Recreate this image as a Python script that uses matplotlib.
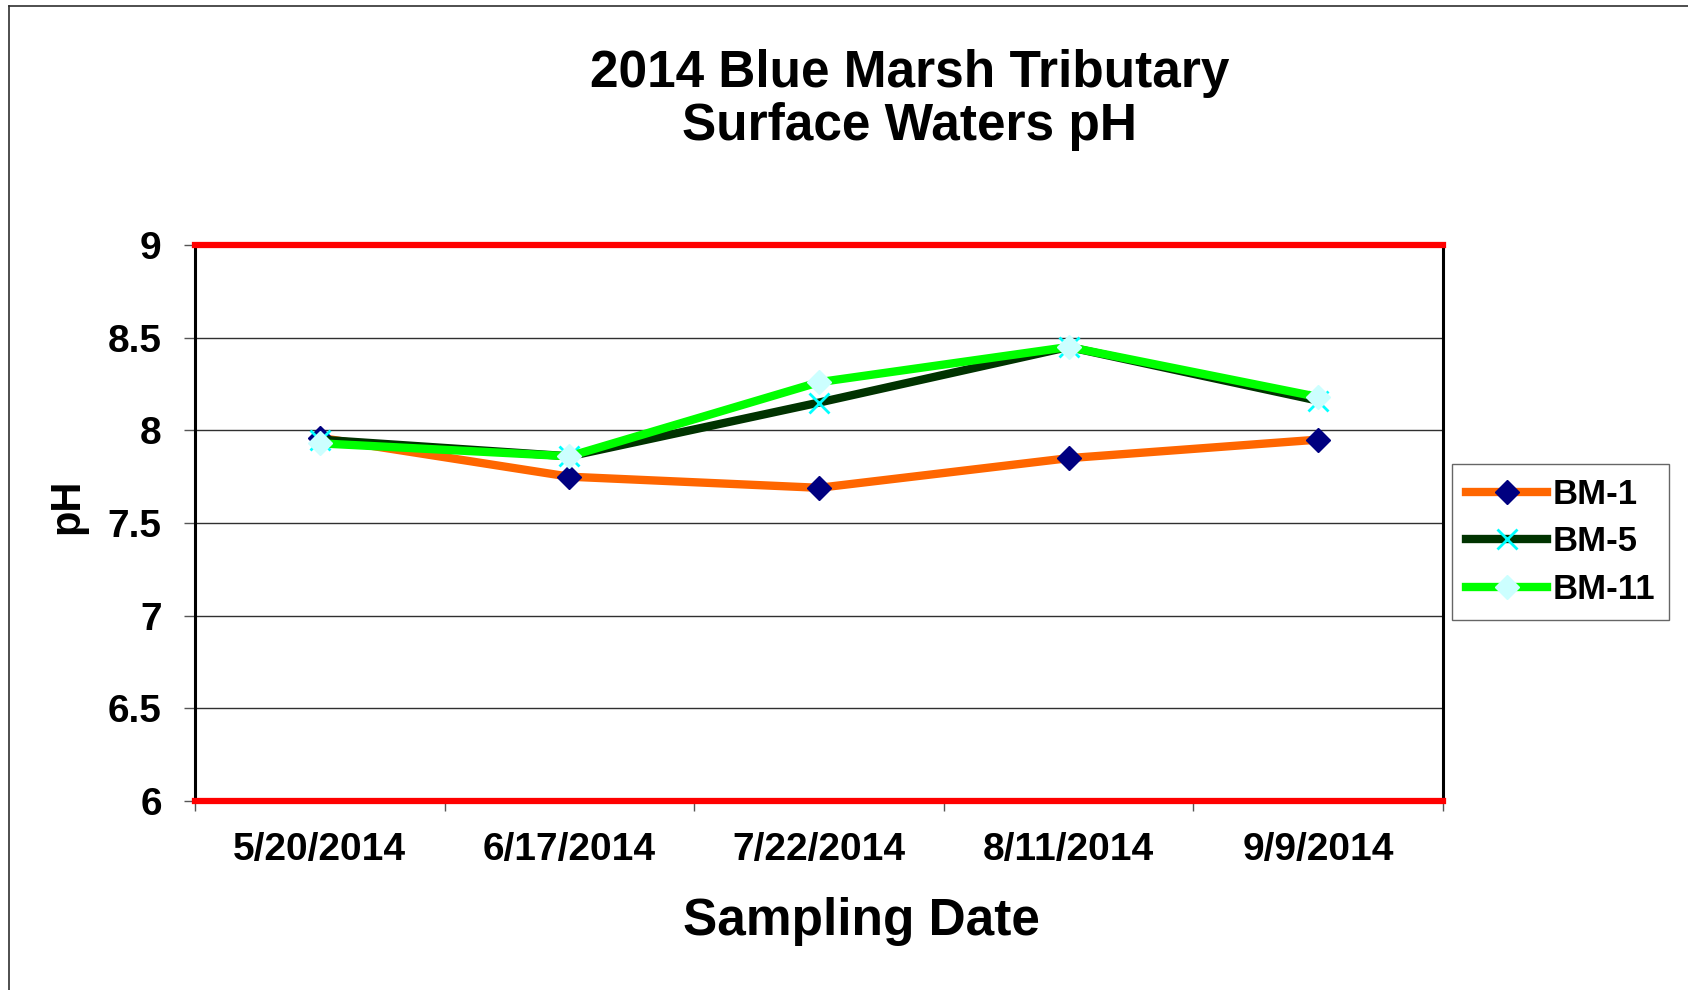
import matplotlib.pyplot as plt
import matplotlib.lines as mlines

plt.rcParams['font.family'] = ['Liberation Sans', 'DejaVu Sans']
plt.rcParams['font.weight'] = 'bold'

dates = ['5/20/2014', '6/17/2014', '7/22/2014', '8/11/2014', '9/9/2014']
bm1 = [7.96, 7.75, 7.69, 7.85, 7.95]
bm5 = [7.95, 7.86, 8.15, 8.45, 8.16]
bm11 = [7.93, 7.86, 8.26, 8.45, 8.18]
yticks = [6, 6.5, 7, 7.5, 8, 8.5, 9]
limit_low, limit_high = 6, 9

fig = plt.figure(figsize=(16.88, 9.9), dpi=100)
ax = fig.add_axes([0.1155, 0.1909, 0.7394, 0.5616])

x = list(range(len(dates)))
ax.plot(x, bm1, color='#FF6600', lw=6, marker='D', ms=12,
        mfc='#000080', mec='#000080', label='BM-1', zorder=3)
ax.plot(x, bm5, color='#003300', lw=6, marker='x', ms=14,
        mew=2, mec='#00FFFF', label='BM-5', zorder=4)
ax.plot(x, bm11, color='#00FF00', lw=6, marker='D', ms=12,
        mfc='#CCFFFF', mec='#CCFFFF', label='BM-11', zorder=5)

ax.axhline(limit_high, color='#FF0000', lw=4.5, clip_on=False, zorder=6)
ax.axhline(limit_low, color='#FF0000', lw=4.5, clip_on=False, zorder=6)

ax.set_xlim(-0.5, len(dates) - 0.5)
ax.set_ylim(6, 9)
ax.set_yticks(yticks)
ax.set_yticklabels(['6', '6.5', '7', '7.5', '8', '8.5', '9'])
ax.yaxis.grid(True, color='#303030', lw=1)
ax.set_axisbelow(True)

ax.set_xticks(x)
ax.set_xticklabels(dates)
ax.set_xticks([i - 0.5 for i in range(len(dates) + 1)], minor=True)
ax.tick_params(axis='x', which='major', length=0, pad=22, labelsize=28)
ax.tick_params(axis='x', which='minor', length=7, width=1, color='#555555', direction='out')
ax.tick_params(axis='y', length=8, width=1, color='#555555', pad=16, labelsize=28)

for s in ['left', 'right']:
    ax.spines[s].set_linewidth(2.2)
    ax.spines[s].set_color('black')
for s in ['top', 'bottom']:
    ax.spines[s].set_visible(False)

ax.set_xlabel('Sampling Date', fontsize=37, fontweight='bold', va='center')
ax.xaxis.set_label_coords(0.534, -0.216)
ax.set_ylabel('pH', fontsize=30, fontweight='bold', va='center')
ax.yaxis.set_label_coords(-0.1026, 0.53)

fig.text(0.539, 0.899, '2014 Blue Marsh Tributary\nSurface Waters pH', ha='center', va='center',
         fontsize=37, fontweight='bold', linespacing=1.12)

leg = fig.legend(loc='upper left', bbox_to_anchor=(1452 / 1688, 1 - 464 / 990),
                 fontsize=25, frameon=True, fancybox=False, handlelength=2.35,
                 borderpad=0.4, labelspacing=0.42, handletextpad=0.15, borderaxespad=0)
leg.get_frame().set_edgecolor('#404040')
leg.get_frame().set_linewidth(1)
for t in leg.get_texts():
    t.set_fontweight('bold')

# outer chart border (left and top edges visible)
fig.add_artist(mlines.Line2D([9 / 1688, 9 / 1688], [0, 1 - 6 / 990], color='#303030', lw=1.2))
fig.add_artist(mlines.Line2D([9 / 1688, 1], [1 - 6 / 990, 1 - 6 / 990], color='#303030', lw=1.2))

fig.savefig('out.png', dpi=100)
